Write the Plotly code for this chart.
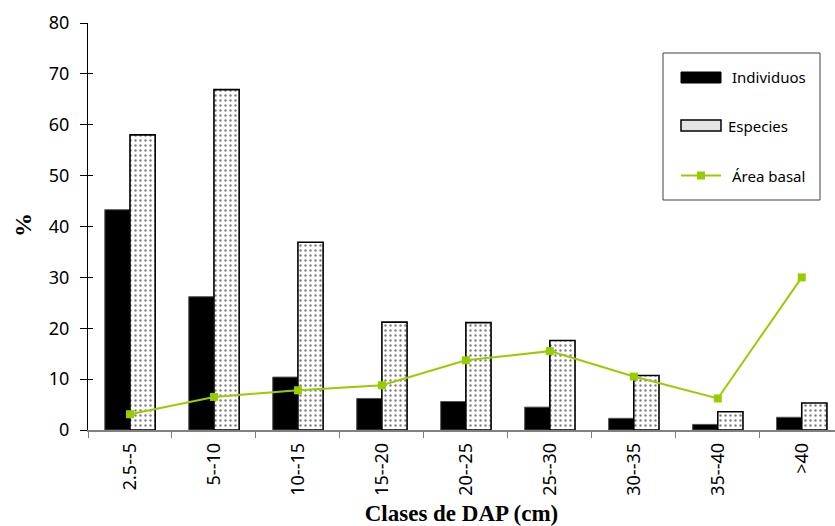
import plotly.graph_objects as go

# Diameter classes (DAP, cm)
clases = ["2.5--5", "5--10", "10--15", "15--20", "20--25", "25--30", "30--35", "35--40", ">40"]

# Percentages per class
individuos = [43.3, 26.2, 10.4, 6.2, 5.6, 4.5, 2.3, 1.1, 2.5]
especies = [58.0, 66.9, 36.9, 21.2, 21.1, 17.6, 10.7, 3.6, 5.3]
area_basal = [3.1, 6.5, 7.8, 8.8, 13.7, 15.5, 10.5, 6.2, 30.0]

VERDE = "#99CC00"
tick_font = dict(family="Noto Sans", size=18, color="black")
title_font = dict(family="Liberation Serif", size=23, color="black")

# Plot area in pixels (for placing the hand-drawn legend)
W, H = 835, 526
ML, MR, MT, MB = 88, 0, 23, 96
PW, PH = W - ML - MR, H - MT - MB


def px(x):
    return (x - ML) / PW


def py(y):
    return (H - MB - y) / PH


fig = go.Figure()

fig.add_trace(go.Bar(
    x=clases, y=individuos, name="Individuos",
    marker=dict(color="black", line=dict(color="#555555", width=1)),
))
fig.add_trace(go.Bar(
    x=clases, y=especies, name="Especies",
    marker=dict(
        color="white",
        line=dict(color="black", width=1.6),
        pattern=dict(shape=".", fgcolor="black", bgcolor="white", size=5, solidity=0.18),
    ),
))
fig.add_trace(go.Scatter(
    x=clases, y=area_basal, name="Área basal", yaxis="y2",
    mode="lines+markers",
    line=dict(color=VERDE, width=2),
    marker=dict(symbol="square", size=8, color=VERDE),
))

# Legend: frame, swatches and labels
shapes = [
    dict(type="rect", x0=px(663), x1=px(820), y0=py(200), y1=py(53),
         line=dict(color="#404040", width=1), fillcolor="rgba(0,0,0,0)"),
    dict(type="rect", x0=px(681), x1=px(721), y0=py(83), y1=py(72),
         line=dict(color="black", width=1), fillcolor="black"),
    dict(type="rect", x0=px(681), x1=px(721), y0=py(131), y1=py(120),
         line=dict(color="black", width=1.5), fillcolor="#e4e4e4"),
    dict(type="line", x0=px(681), x1=px(721), y0=py(175.5), y1=py(175.5),
         line=dict(color=VERDE, width=2)),
    dict(type="rect", x0=px(697), x1=px(705), y0=py(179.5), y1=py(171.5),
         line=dict(color=VERDE, width=0), fillcolor=VERDE),
]
for s in shapes:
    s.update(xref="paper", yref="paper")
    fig.add_shape(**s)

legend_font = dict(family="Noto Sans", size=15, color="black")
for texto, xx, yy in [("Individuos", 730, 77), ("Especies", 726, 126), ("Área basal", 730, 176)]:
    fig.add_annotation(
        text=texto, xref="paper", yref="paper", x=px(xx), y=py(yy),
        xanchor="left", yanchor="middle", showarrow=False, font=legend_font,
    )

# Y axis title
fig.add_annotation(
    text="<b>%</b>", xref="paper", yref="paper", x=px(23), y=py(225),
    xanchor="center", yanchor="middle", textangle=-90, showarrow=False,
    font=dict(family="Liberation Serif", size=24, color="black"),
)

fig.update_layout(
    width=W, height=H,
    margin=dict(l=ML, r=MR, t=MT, b=MB),
    paper_bgcolor="white", plot_bgcolor="white",
    barmode="group", bargap=0.4, bargroupgap=0,
    showlegend=False,
    xaxis=dict(
        type="category", range=[-0.5, 8.396],
        showline=True, linecolor="#808080", linewidth=1.5,
        ticks="outside", ticklen=6, tickcolor="#808080", tickwidth=1,
        tickson="boundaries", tickangle=-90, ticklabelstandoff=4,
        tickfont=tick_font, showgrid=False, zeroline=False,
        title=dict(text="<b>Clases de DAP (cm)</b>", font=title_font, standoff=10),
    ),
    yaxis=dict(
        range=[0, 80], dtick=10,
        showline=True, linecolor="black", linewidth=1,
        ticks="outside", ticklen=7, tickcolor="black", tickwidth=1,
        ticklabelstandoff=7,
        tickfont=tick_font, showgrid=False, zeroline=False,
    ),
    yaxis2=dict(
        overlaying="y", side="left", range=[0, 80], dtick=10,
        ticks="inside", ticklen=5, tickcolor="black", tickwidth=1,
        showticklabels=False, showline=False, showgrid=False, zeroline=False,
    ),
)

fig.write_html("out.html")
